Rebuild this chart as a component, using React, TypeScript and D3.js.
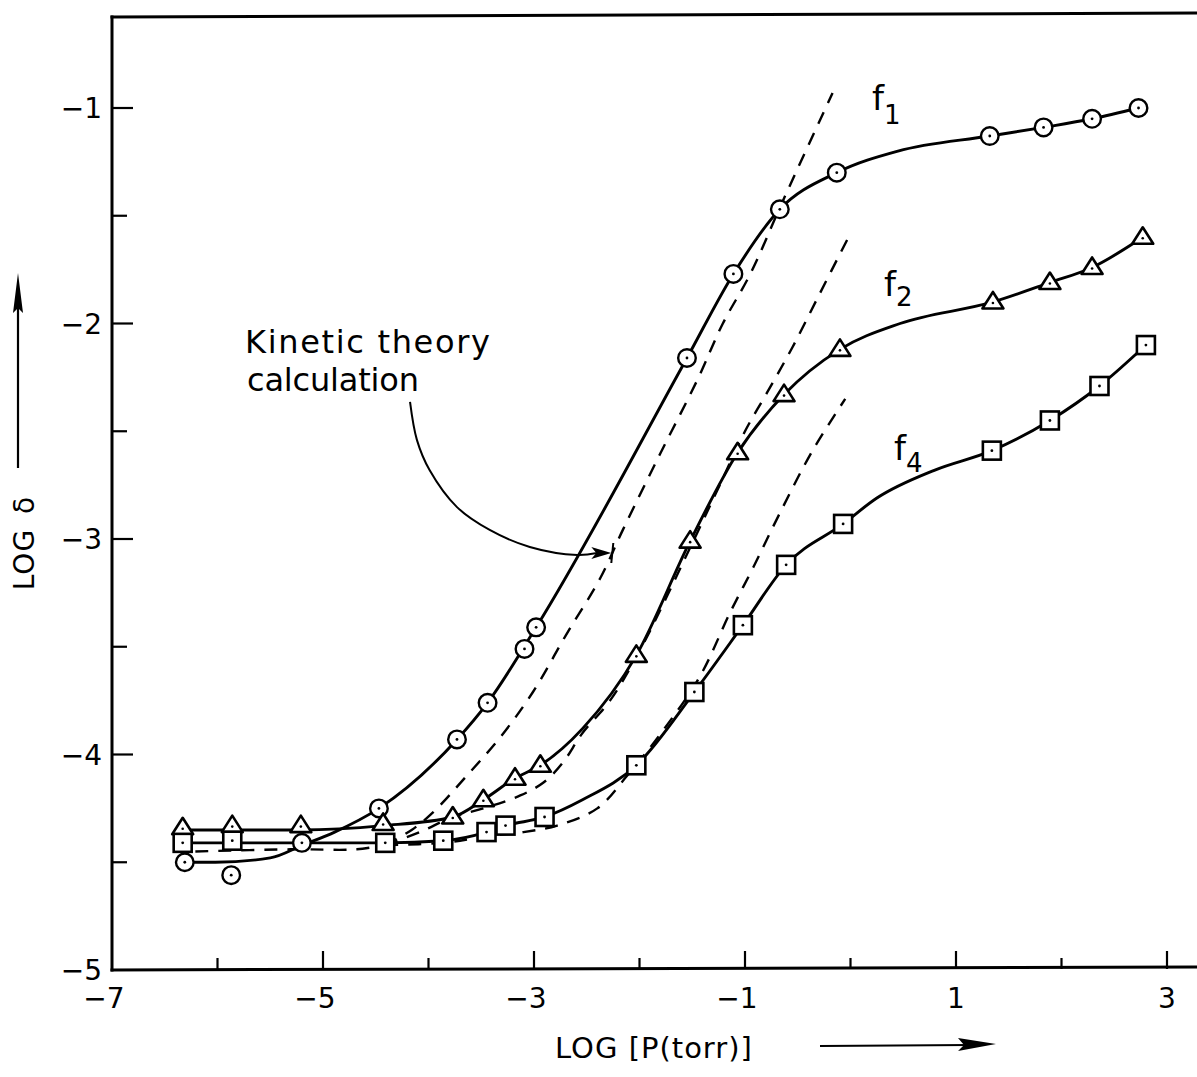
import * as d3 from 'd3';

// marker readings, [LOG P, LOG delta]
const f1Points = [
  [-6.31, -4.5], [-5.87, -4.56], [-5.2, -4.41], [-4.47, -4.25], [-3.73, -3.93],
  [-3.44, -3.76], [-3.09, -3.51], [-2.98, -3.41], [-1.55, -2.16], [-1.11, -1.77],
  [-0.67, -1.47], [-0.13, -1.3], [1.32, -1.13], [1.83, -1.09], [2.29, -1.05], [2.73, -1.0],
];
const f2Points = [
  [-6.33, -4.34], [-5.86, -4.33], [-5.21, -4.33], [-4.43, -4.32], [-3.77, -4.29],
  [-3.48, -4.21], [-3.18, -4.11], [-2.94, -4.05], [-2.03, -3.54], [-1.52, -3.01],
  [-1.07, -2.6], [-0.63, -2.33], [-0.1, -2.12], [1.35, -1.9], [1.89, -1.81], [2.29, -1.74], [2.77, -1.6],
];
const f4Points = [
  [-6.33, -4.41], [-5.86, -4.4], [-4.41, -4.41], [-3.86, -4.4], [-3.45, -4.36],
  [-3.27, -4.33], [-2.9, -4.29], [-2.03, -4.05], [-1.48, -3.71], [-1.02, -3.4],
  [-0.61, -3.12], [-0.07, -2.93], [1.34, -2.59], [1.89, -2.45], [2.36, -2.29], [2.8, -2.1],
];

// hand drawn smooth curves through the data
const f1Curve = [
  [-6.31, -4.5], [-6.02, -4.5], [-5.5, -4.48], [-5.19, -4.42], [-4.89, -4.36], [-4.47, -4.25],
  [-3.73, -3.93], [-3.44, -3.76], [-2.98, -3.41], [-1.55, -2.16], [-1.11, -1.77],
  [-0.67, -1.47], [-0.13, -1.3], [0.45, -1.2], [1.32, -1.13], [1.83, -1.09], [2.29, -1.05], [2.73, -1.0],
];
const f2Curve = [
  [-6.33, -4.35], [-5.86, -4.35], [-5.21, -4.35], [-4.43, -4.33], [-3.77, -4.29],
  [-3.48, -4.21], [-3.18, -4.11], [-2.94, -4.05], [-2.54, -3.88], [-2.03, -3.54], [-1.52, -3.01],
  [-1.07, -2.6], [-0.63, -2.33], [-0.1, -2.12], [0.47, -2.0], [1.35, -1.9], [1.89, -1.81], [2.29, -1.74], [2.77, -1.6],
];
const f4Curve = [
  [-6.33, -4.41], [-5.86, -4.41], [-5.21, -4.41], [-4.41, -4.41], [-3.86, -4.4], [-3.45, -4.36],
  [-3.27, -4.33], [-2.9, -4.29], [-2.54, -4.21], [-2.03, -4.05], [-1.48, -3.71], [-1.02, -3.4],
  [-0.61, -3.12], [-0.07, -2.93], [0.25, -2.81], [0.8, -2.68], [1.34, -2.59], [1.89, -2.45], [2.36, -2.29], [2.8, -2.1],
];

// kinetic theory calculation (dashed)
const theoryBase = [[-6.21, -4.45], [-5.31, -4.44], [-4.68, -4.44], [-4.41, -4.42]];
const theoryF1 = [
  [-4.41, -4.42], [-4.16, -4.35], [-3.96, -4.27], [-3.64, -4.1], [-3.32, -3.92], [-3.01, -3.71],
  [-2.69, -3.44], [-2.37, -3.18], [-2.16, -2.96], [-1.81, -2.61], [-1.45, -2.26], [-1.21, -2.0],
  [-0.95, -1.77], [-0.64, -1.43], [-0.17, -0.93],
];
const theoryF2 = [
  [-4.41, -4.42], [-4.08, -4.36], [-3.77, -4.29], [-3.48, -4.25], [-3.13, -4.19], [-2.91, -4.13],
  [-2.73, -4.04], [-2.54, -3.9], [-2.28, -3.75], [-2.0, -3.52], [-1.51, -3.03], [-1.24, -2.75],
  [-1.0, -2.5], [-0.79, -2.32], [-0.55, -2.11], [-0.29, -1.86], [-0.03, -1.61],
];
const theoryF4 = [
  [-4.41, -4.42], [-3.86, -4.41], [-3.45, -4.38], [-3.1, -4.36], [-2.78, -4.33], [-2.4, -4.25],
  [-2.12, -4.1], [-1.81, -3.91], [-1.43, -3.64], [-1.14, -3.34], [-0.92, -3.13], [-0.67, -2.88],
  [-0.36, -2.59], [-0.05, -2.35],
];

// pointer from the note to the dashed curve
const notePointer = [
  [-4.175, -2.364], [-4.11, -2.54], [-3.99, -2.68], [-3.73, -2.852], [-3.42, -2.958],
  [-3.04, -3.037], [-2.59, -3.074], [-2.4, -3.065],
];

const xMajor = [-5, -3, -1, 1, 3];
const xMinor = [-6, -4, -2, 0, 2];
const xLabels = [-7, -5, -3, -1, 1, 3];
const yMajor = [-1, -2, -3, -4];
const yMinor = [-1.5, -2.5, -3.5, -4.5];
const yLabels = [-1, -2, -3, -4, -5];

const W = 1197;
const H = 1077;
const font = 'DejaVu Sans, sans-serif';

const x = d3.scaleLinear().domain([-7, 3]).range([112, 1167]);
const y = d3.scaleLinear().domain([-5, -1]).range([970, 108]);

const smooth = d3
  .line()
  .x((d) => x(d[0]))
  .y((d) => y(d[1]))
  .curve(d3.curveCatmullRom.alpha(0.5));

const smoothMono = d3
  .line()
  .x((d) => x(d[0]))
  .y((d) => y(d[1]))
  .curve(d3.curveMonotoneX);

const minus = (v) => (v < 0 ? '\u2212' + Math.abs(v) : String(v));

function Circle({ d }) {
  return (
    <g transform={`translate(${x(d[0])},${y(d[1])})`}>
      <circle r={8.8} fill='#fff' stroke='#000' strokeWidth={2.4} />
      <circle r={1.4} fill='#000' />
    </g>
  );
}

function Triangle({ d }) {
  return (
    <g transform={`translate(${x(d[0])},${y(d[1])})`}>
      <path d='M0,-10L10.5,6.5L-10.5,6.5Z' fill='#fff' stroke='#000' strokeWidth={2.6} strokeLinejoin='round' />
      <circle cy={1} r={1.3} fill='#000' />
    </g>
  );
}

function Square({ d }) {
  return (
    <g transform={`translate(${x(d[0])},${y(d[1])})`}>
      <rect x={-9} y={-9} width={18} height={18} fill='#fff' stroke='#000' strokeWidth={2.6} />
      <circle r={1.4} fill='#000' />
    </g>
  );
}

export default function App() {
  const pEnd = notePointer[notePointer.length - 1];
  const tipX = x(pEnd[0]) + 14;
  const tipY = y(pEnd[1]);

  return (
    <svg
      width={W}
      height={H}
      style={{ position: 'absolute', left: 0, top: 0, background: '#fff' }}
      fontFamily={font}
    >
      {/* frame */}
      <g stroke='#000' strokeWidth={3} fill='none' strokeLinecap='square'>
        <line x1={x(-7)} y1={17} x2={x(-7)} y2={y(-5)} />
        <line x1={x(-7)} y1={17} x2={W} y2={13} />
        <line x1={x(-7)} y1={y(-5)} x2={W} y2={y(-5) - 3} />
      </g>

      {/* ticks */}
      <g stroke='#000' strokeWidth={2.2}>
        {xMajor.map((v) => (
          <line key={'xM' + v} x1={x(v)} x2={x(v)} y1={y(-5) - 1} y2={y(-5) - 19} />
        ))}
        {xMinor.map((v) => (
          <line key={'xm' + v} x1={x(v)} x2={x(v)} y1={y(-5) - 1} y2={y(-5) - 12} />
        ))}
        {yMajor.map((v) => (
          <line key={'yM' + v} x1={x(-7)} x2={x(-7) + 21} y1={y(v)} y2={y(v)} />
        ))}
        {yMinor.map((v) => (
          <line key={'ym' + v} x1={x(-7)} x2={x(-7) + 15} y1={y(v)} y2={y(v)} />
        ))}
      </g>

      {/* tick labels */}
      <g fontSize={28} fill='#000'>
        {xLabels.map((v) => (
          <text key={'xl' + v} x={x(v) + (v < 0 ? -8 : 0)} y={1008} textAnchor='middle'>
            {minus(v)}
          </text>
        ))}
        {yLabels.map((v) => (
          <text key={'yl' + v} x={102} y={y(v) + 10} textAnchor='end'>
            {minus(v)}
          </text>
        ))}
      </g>

      {/* axis titles */}
      <text transform='translate(34,543) rotate(-90)' textAnchor='middle' fontSize={28} letterSpacing={1}>
        LOG{'\u2002'}δ
      </text>
      <line x1={18} y1={468} x2={18} y2={300} stroke='#000' strokeWidth={2.2} />
      <path d='M18,273L13,313L18,308L23,313Z' fill='#000' />

      <text x={555} y={1058} fontSize={29} letterSpacing={1}>
        LOG [P(torr)]
      </text>
      <line x1={820} y1={1046} x2={970} y2={1045} stroke='#000' strokeWidth={2.2} />
      <path d='M996,1044L958,1038L964,1045L958,1051Z' fill='#000' />

      {/* theory curves */}
      <g fill='none' stroke='#000' strokeWidth={2.4} strokeDasharray='13 10'>
        <path d={smooth(theoryBase)} />
        <path d={smooth(theoryF1)} />
        <path d={smooth(theoryF2)} />
        <path d={smooth(theoryF4)} />
      </g>

      {/* measured curves */}
      <g fill='none' stroke='#000' strokeWidth={2.9} strokeLinejoin='round'>
        <path d={smoothMono(f1Curve)} />
        <path d={smoothMono(f2Curve)} />
        <path d={smoothMono(f4Curve)} />
      </g>

      {f1Points.map((d, i) => (
        <Circle key={'c' + i} d={d} />
      ))}
      {f2Points.map((d, i) => (
        <Triangle key={'t' + i} d={d} />
      ))}
      {f4Points.map((d, i) => (
        <Square key={'s' + i} d={d} />
      ))}

      {/* series labels */}
      <g fill='#000'>
        <text x={872} y={110} fontSize={34}>
          f<tspan dy={14} fontSize={26}>1</tspan>
        </text>
        <text x={884} y={296} fontSize={34}>
          f<tspan dy={10} fontSize={26}>2</tspan>
        </text>
        <text x={894} y={460} fontSize={34}>
          f<tspan dy={12} fontSize={26}>4</tspan>
        </text>
      </g>

      {/* note */}
      <text x={245} y={353} fontSize={32} textLength={245} lengthAdjust='spacing'>
        Kinetic theory
      </text>
      <text x={247} y={391} fontSize={32} textLength={172} lengthAdjust='spacing'>
        calculation
      </text>
      <path d={smooth(notePointer)} fill='none' stroke='#000' strokeWidth={2} />
      <path
        d={`M${tipX},${tipY}L${tipX - 20},${tipY - 6}L${tipX - 15},${tipY}L${tipX - 20},${tipY + 6}Z`}
        fill='#000'
      />
      <line x1={tipX + 2} y1={tipY - 10} x2={tipX} y2={tipY + 10} stroke='#000' strokeWidth={2} />
    </svg>
  );
}
